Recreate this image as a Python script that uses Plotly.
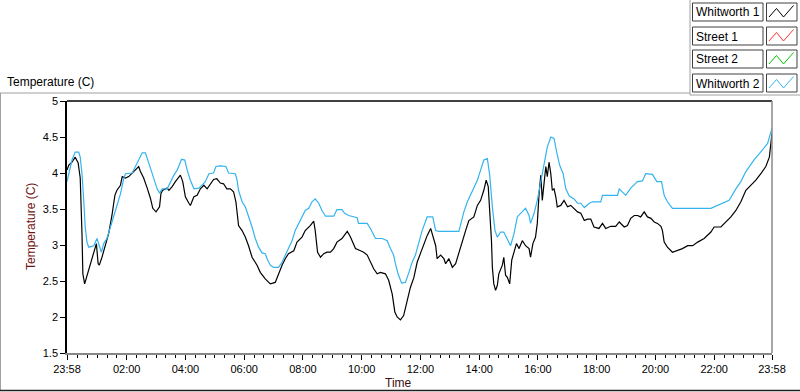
import pandas as pd
import plotly.graph_objects as go

# ---- data (hours elapsed since 23:58, temperature in C) ----
w1_hours = [0.00,0.06,0.17,0.28,0.38,0.45,0.51,0.54,0.60,0.68,0.79,0.91,0.96,1.00,1.06,1.10,1.19,1.31,1.42,1.53,
            1.63,1.70,1.82,1.88,1.99,2.10,2.22,2.33,2.44,2.50,2.61,2.73,2.84,2.92,3.03,3.15,3.20,3.26,3.41,3.47,
            3.58,3.69,3.81,3.86,3.94,4.03,4.15,4.20,4.32,4.43,4.54,4.66,4.77,4.89,4.99,5.10,5.22,5.33,5.44,5.56,
            5.67,5.75,5.84,5.96,6.07,6.18,6.30,6.47,6.58,6.75,6.92,7.09,7.20,7.32,7.43,7.54,7.72,7.83,8.00,8.11,
            8.28,8.40,8.45,8.53,8.63,8.74,8.85,8.97,9.08,9.19,9.36,9.54,9.65,9.76,9.82,9.99,10.10,10.22,10.33,10.44,
            10.56,10.67,10.84,10.95,11.07,11.16,11.24,11.35,11.46,11.58,11.69,11.81,11.92,12.03,12.15,12.26,12.38,12.45,12.55,12.60,
            12.72,12.83,12.89,13.00,13.12,13.23,13.34,13.46,13.57,13.68,13.85,13.97,14.08,14.19,14.27,14.34,14.40,14.45,14.48,14.53,
            14.59,14.65,14.70,14.76,14.82,14.87,14.93,14.99,15.07,15.14,15.22,15.30,15.39,15.50,15.61,15.73,15.78,15.86,15.95,16.01,
            16.07,16.13,16.18,16.24,16.30,16.35,16.41,16.47,16.52,16.58,16.64,16.69,16.81,16.92,17.04,17.15,17.26,17.38,17.49,17.61,
            17.72,17.83,17.94,18.11,18.23,18.34,18.51,18.68,18.80,18.97,19.08,19.19,19.31,19.42,19.53,19.65,19.76,19.88,19.99,20.10,
            20.22,20.27,20.33,20.44,20.61,20.78,20.95,21.13,21.30,21.47,21.69,21.92,22.03,22.26,22.43,22.60,22.77,22.94,23.11,23.28,
            23.45,23.62,23.79,23.91,24.00]
w1_temp = [4.04,4.11,4.15,4.22,4.14,3.93,3.16,2.60,2.46,2.57,2.72,2.86,2.95,3.02,2.74,2.72,2.83,3.02,3.16,3.41,
           3.69,3.76,3.83,3.95,3.93,3.95,4.00,4.04,4.09,4.02,3.93,3.79,3.65,3.51,3.46,3.53,3.72,3.76,3.79,3.76,
           3.81,3.88,3.95,3.97,3.88,3.67,3.58,3.55,3.67,3.69,3.78,3.83,3.78,3.85,3.91,3.92,3.86,3.85,3.78,3.78,
           3.74,3.60,3.27,3.20,3.11,2.99,2.83,2.72,2.62,2.53,2.46,2.48,2.60,2.72,2.81,2.88,2.92,3.04,3.11,3.20,
           3.27,3.33,3.20,2.90,2.83,2.88,2.90,2.90,2.95,3.04,3.09,3.19,3.11,2.99,2.95,2.92,2.90,2.86,2.76,2.67,
           2.60,2.62,2.60,2.51,2.32,2.07,2.00,1.96,2.02,2.23,2.41,2.55,2.76,2.88,3.02,3.13,3.23,3.13,2.99,2.81,
           2.86,2.81,2.74,2.81,2.69,2.74,2.90,3.06,3.20,3.34,3.39,3.55,3.62,3.76,3.90,3.81,3.44,3.06,2.69,2.46,
           2.37,2.44,2.60,2.67,2.72,2.83,2.58,2.55,2.46,2.79,2.90,3.02,2.95,3.06,2.99,2.95,2.83,3.02,3.11,3.30,
           3.71,3.97,3.62,3.88,4.09,3.95,4.15,3.99,3.76,3.78,3.67,3.53,3.55,3.62,3.53,3.55,3.51,3.46,3.44,3.34,
           3.36,3.36,3.25,3.23,3.30,3.23,3.26,3.26,3.32,3.25,3.27,3.37,3.41,3.41,3.39,3.46,3.39,3.37,3.32,3.30,
           3.26,3.20,3.04,2.97,2.90,2.92,2.95,2.99,2.99,3.04,3.09,3.18,3.25,3.25,3.32,3.39,3.48,3.60,3.76,3.83,
           3.90,3.99,4.09,4.22,4.55]

w2_hours = [0.00,0.06,0.17,0.28,0.40,0.45,0.51,0.57,0.62,0.68,0.74,0.91,0.96,1.02,1.10,1.17,1.25,1.36,1.48,1.59,
            1.70,1.82,1.93,1.99,2.22,2.33,2.44,2.56,2.67,2.73,2.84,2.96,3.07,3.15,3.24,3.41,3.52,3.64,3.75,3.90,
            4.01,4.09,4.20,4.32,4.49,4.60,4.71,4.83,4.99,5.07,5.22,5.41,5.50,5.73,5.79,5.84,5.96,6.07,6.18,6.30,
            6.41,6.52,6.64,6.75,6.81,6.92,7.03,7.20,7.32,7.43,7.54,7.66,7.77,7.89,8.00,8.11,8.23,8.34,8.45,8.57,
            8.68,8.80,9.08,9.19,9.36,9.45,9.59,9.88,9.92,10.22,10.33,10.50,10.73,10.90,11.01,11.12,11.18,11.27,11.39,11.52,
            11.64,11.75,11.86,11.98,12.09,12.26,12.45,12.55,12.66,13.34,13.40,13.51,13.63,13.74,13.85,13.97,14.08,14.19,14.31,14.39,
            14.48,14.57,14.65,14.76,14.87,14.99,15.10,15.22,15.33,15.44,15.61,15.73,15.78,15.90,16.01,16.13,16.24,16.35,16.47,16.58,
            16.67,16.77,16.89,16.98,17.10,17.26,17.38,17.49,17.61,17.78,17.89,18.17,18.23,18.74,18.80,18.91,19.02,19.19,19.42,19.59,
            19.70,19.93,20.08,20.24,20.33,20.44,20.61,21.92,22.15,22.37,22.54,22.77,22.94,23.11,23.28,23.40,23.57,23.74,23.85,24.00]
w2_temp = [3.88,3.99,4.18,4.29,4.29,4.22,3.99,3.62,3.25,3.04,2.97,2.99,3.04,3.09,2.99,2.90,3.02,3.09,3.25,3.41,
           3.57,3.71,3.92,3.99,4.00,4.09,4.18,4.28,4.28,4.20,4.06,3.92,3.78,3.72,3.78,3.78,3.88,3.97,4.04,4.19,
           4.18,4.04,3.90,3.78,3.79,3.83,3.88,3.99,4.00,4.09,4.10,4.09,4.00,3.99,3.90,3.76,3.60,3.53,3.41,3.25,
           3.09,2.97,2.89,2.88,2.81,2.72,2.69,2.69,2.76,2.86,2.97,3.06,3.20,3.30,3.40,3.48,3.51,3.60,3.64,3.58,
           3.48,3.40,3.40,3.49,3.49,3.44,3.41,3.38,3.30,3.30,3.23,3.09,3.09,3.06,2.95,2.86,2.74,2.60,2.47,2.48,
           2.62,2.76,2.86,3.02,3.20,3.39,3.39,3.20,3.19,3.19,3.30,3.46,3.60,3.69,3.78,3.90,4.04,4.18,4.20,3.97,
           3.53,3.20,3.11,3.18,3.18,3.09,2.99,3.16,3.39,3.44,3.51,3.41,3.30,3.44,3.62,3.88,4.15,4.36,4.50,4.48,
           4.29,4.11,3.99,3.78,3.68,3.64,3.58,3.58,3.52,3.58,3.60,3.60,3.69,3.69,3.78,3.74,3.69,3.79,3.88,3.89,
           3.99,3.98,3.88,3.88,3.69,3.60,3.51,3.51,3.55,3.58,3.62,3.78,3.88,4.02,4.13,4.19,4.27,4.36,4.41,4.62]

series_names = ["Whitworth 1", "Street 1", "Street 2", "Whitworth 2"]
series_colors = ["#000000", "#ff3030", "#00cc00", "#33b4ee"]

x_ticktext = ["23:58", "02:00", "04:00", "06:00", "08:00", "10:00", "12:00",
              "14:00", "16:00", "18:00", "20:00", "22:00", "23:58"]

start = pd.Timestamp("2000-01-01 23:58")
end = start + pd.Timedelta(hours=24)
tick_times = [start] + [pd.Timestamp("2000-01-02") + pd.Timedelta(hours=h) for h in range(2, 23, 2)] + [end]

def to_time(hours):
    return [start + pd.Timedelta(hours=h) for h in hours]

fig = go.Figure()
fig.add_trace(go.Scatter(x=to_time(w1_hours), y=w1_temp, mode="lines", name=series_names[0],
                         line=dict(color=series_colors[0], width=1.2)))
fig.add_trace(go.Scatter(x=[], y=[], mode="lines", name=series_names[1], line=dict(color=series_colors[1])))
fig.add_trace(go.Scatter(x=[], y=[], mode="lines", name=series_names[2], line=dict(color=series_colors[2])))
fig.add_trace(go.Scatter(x=to_time(w2_hours), y=w2_temp, mode="lines", name=series_names[3],
                         line=dict(color=series_colors[3], width=1.2)))

# plot area geometry (pixels)
L, R, T, B = 67, 772, 101, 353
W, H = 800, 392

def px(x):
    return (x - L) / (R - L)

def py(y):
    return (B - y) / (B - T)

shapes = []
annotations = []
FONT = "Liberation Sans"

# outer panel frame
shapes.append(dict(type="line", xref="paper", yref="paper", x0=px(0), x1=px(690), y0=py(93), y1=py(93),
                   line=dict(color="#a0a0a0", width=1)))
shapes.append(dict(type="line", xref="paper", yref="paper", x0=px(0.5), x1=px(0.5), y0=py(93), y1=py(390),
                   line=dict(color="#a0a0a0", width=1)))
shapes.append(dict(type="line", xref="paper", yref="paper", x0=px(0), x1=px(800), y0=py(390.5), y1=py(390.5),
                   line=dict(color="#202020", width=1.5)))
shapes.append(dict(type="line", xref="paper", yref="paper", x0=px(690), x1=px(800), y0=py(95), y1=py(95),
                   line=dict(color="#a0a0a0", width=1)))
shapes.append(dict(type="line", xref="paper", yref="paper", x0=px(690), x1=px(690), y0=py(0), y1=py(95),
                   line=dict(color="#a0a0a0", width=1)))
# plot frame: black top/left, gray right/bottom
shapes.append(dict(type="line", xref="paper", yref="paper", x0=0, x1=1, y0=1, y1=1, line=dict(color="black", width=1.5)))
shapes.append(dict(type="line", xref="paper", yref="paper", x0=1, x1=1, y0=0, y1=1, line=dict(color="#888888", width=1.5)))

# legend boxes
row_tops = [3, 27, 50, 74]
for name, col, top in zip(series_names, series_colors, row_tops):
    bot = top + 18
    shapes.append(dict(type="rect", xref="paper", yref="paper", x0=px(692.5), x1=px(763), y0=py(bot), y1=py(top),
                       line=dict(color="#404040", width=1), fillcolor="white"))
    shapes.append(dict(type="rect", xref="paper", yref="paper", x0=px(766.5), x1=px(797), y0=py(bot), y1=py(top),
                       line=dict(color="#404040", width=1), fillcolor="white"))
    pts = [(769, top + 14), (776.5, top + 5.5), (783.5, top + 14), (793.5, top + 2.5)]
    path = "M " + " L ".join(f"{px(a)},{py(b)}" for a, b in pts)
    shapes.append(dict(type="path", xref="paper", yref="paper", path=path, line=dict(color=col, width=1)))
    annotations.append(dict(xref="paper", yref="paper", x=px(694), y=py(top + 9.5), text=name, showarrow=False,
                            xanchor="left", yanchor="middle", font=dict(family=FONT, size=12, color="black")))

# chart labels
annotations.append(dict(xref="paper", yref="paper", x=px(5), y=py(82), text="Temperature (C)", showarrow=False,
                        xanchor="left", yanchor="middle", font=dict(family=FONT, size=12, color="black")))
annotations.append(dict(xref="paper", yref="paper", x=px(31), y=py(227), text="Temperature (C)", showarrow=False,
                        textangle=-90, xanchor="center", yanchor="middle",
                        font=dict(family=FONT, size=12, color="#6e1414")))
annotations.append(dict(xref="paper", yref="paper", x=px(398), y=py(383), text="Time", showarrow=False,
                        xanchor="center", yanchor="middle", font=dict(family=FONT, size=12, color="#3a1010")))

fig.update_layout(
    width=W, height=H,
    margin=dict(l=L, r=W - R, t=T, b=H - B, pad=0),
    paper_bgcolor="white", plot_bgcolor="white",
    showlegend=False,
    shapes=shapes, annotations=annotations,
    font=dict(family=FONT, size=11, color="black"),
    xaxis=dict(type="date", range=[start, end], tickmode="array", tickvals=tick_times, ticktext=x_ticktext,
               showgrid=False, zeroline=False, showline=True, linecolor="#888888", linewidth=1.5,
               ticks="outside", ticklen=5, tickwidth=1, tickcolor="black",
               tickfont=dict(family=FONT, size=11, color="black"),
               minor=dict(ticks="outside", ticklen=3, tickcolor="black", tickwidth=1,
                          dtick=20 * 60 * 1000, tick0="2000-01-02 00:00", showgrid=False)),
    yaxis=dict(range=[1.5, 5], tickmode="array", tickvals=[1.5, 2, 2.5, 3, 3.5, 4, 4.5, 5],
               ticktext=["1.5", "2", "2.5", "3", "3.5", "4", "4.5", "5"],
               showgrid=False, zeroline=False, showline=True, linecolor="black", linewidth=1.5,
               ticks="outside", ticklen=5, tickwidth=1, tickcolor="black",
               tickfont=dict(family=FONT, size=11, color="black")),
)

fig.write_html("out.html", config={"displayModeBar": False},
               post_script="document.body.style.margin='0';document.body.style.overflow='hidden';")
